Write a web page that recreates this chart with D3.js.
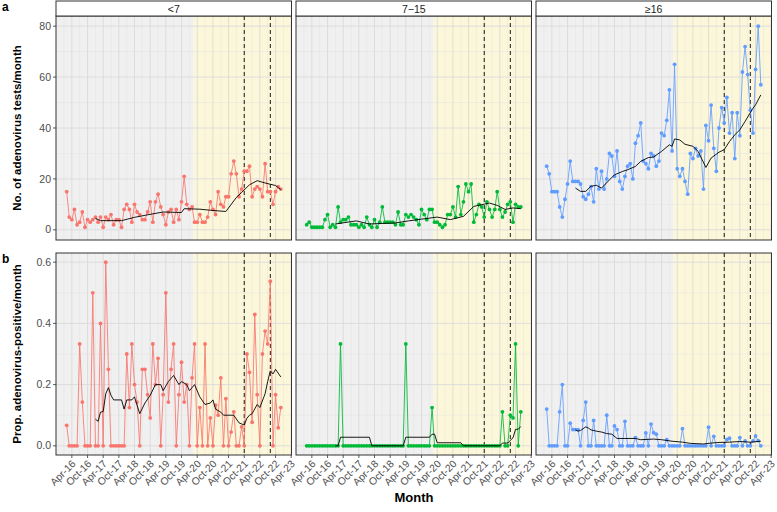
<!DOCTYPE html>
<html><head><meta charset="utf-8">
<script src="https://cdn.jsdelivr.net/npm/d3@7/dist/d3.min.js"></script>
<style>
body{margin:0;background:#fff}
svg{display:block}
text{font-family:"Liberation Sans",Arial,Helvetica,sans-serif}
</style>
</head><body>
<svg id="chart" width="777" height="512"></svg>
<script>
// ---------------- DATA ----------------
const groups = ["<7", "7\u221215", "\u226516"];
const groupColors = ["#F8766D", "#00BA38", "#619CFF"];
const firstMonth = "2016-02";
const lastMonth = "2022-12";

// monthly number of adenovirus tests
const tests_lt7 = [15,5,4,8,2,3,7,1,4,3,4,5,3,5,1,5,4,6,2,4,4,1,8,10,8,3,10,7,6,4,4,7,11,3,11,14,9,6,2,7,8,3,8,4,11,21,10,8,9,3,3,6,3,3,5,11,8,6,15,10,9,13,13,22,27,22,13,16,23,23,25,13,16,17,16,13,26,15,15,10,15,17,16];
const tests_7_15 = [2,3,1,1,1,1,1,4,6,1,2,1,9,3,4,4,5,2,2,2,1,2,1,5,2,1,4,1,3,9,3,3,3,3,2,7,2,2,6,5,6,5,4,2,8,6,4,8,8,3,3,2,1,2,6,6,9,5,17,6,11,18,15,18,3,6,10,9,5,11,8,5,8,15,8,5,7,10,11,3,10,9,9];
const tests_ge16 = [25,22,15,15,15,9,5,12,18,27,19,19,19,18,13,12,14,17,11,24,16,23,16,20,30,29,21,31,19,16,21,25,26,20,34,37,42,27,26,24,30,29,25,27,38,37,43,55,31,65,24,21,24,19,14,30,28,32,29,31,16,41,35,49,32,23,40,48,42,52,38,46,28,46,37,62,72,61,47,38,63,80,57];

// monthly proportion adenovirus-positive
const prop_lt7 = [0.067,0,0,0,0,0.333,0.143,0,0,0,0.5,0,0,0.4,0,0.6,0.25,0,0,0,0,0,0,0.3,0.125,0.333,0.2,0.143,0,0.25,0.25,0.167,0.091,0.333,0.2,0.286,0,0.167,0.5,0.143,0.25,0.333,0,0.167,0.273,0.143,0.2,0,0.222,0.333,0,0.125,0,0.333,0,0.091,0,0.133,0.1,0.222,0,0.154,0,0.045,0.111,0,0,0.062,0,0.3,0.24,0.077,0.429,0.167,0,0.3,0.375,0.333,0.538,0,0.167,0.059,0.125];
const prop_7_15 = [0,0,0,0,0,0,0,0,0,0,0,0,0,0.333,0,0,0,0,0,0,0,0,0,0,0,0,0,0,0,0,0,0,0,0,0,0,0,0,0.333,0,0,0,0,0,0,0,0,0,0.125,0,0,0,0,0,0,0,0,0,0,0,0,0,0,0,0,0,0,0,0,0,0,0,0,0,0,0.111,0,0,0.1,0.091,0.333,0,0.111];
const prop_ge16 = [0.12,0,0,0,0,0.111,0.2,0,0,0.074,0.053,0.053,0.053,0,0.083,0.143,0,0,0.083,0,0,0,0,0.1,0,0,0.065,0.053,0,0,0.08,0,0,0,0.027,0,0,0,0.042,0,0.071,0.043,0.038,0,0,0,0.02,0,0,0,0,0,0.056,0,0,0,0,0,0,0,0,0,0.061,0,0.031,0,0,0,0,0.021,0.025,0,0,0,0.027,0,0.016,0,0,0.016,0.032,0.017,0];

// black trend line: [month index, value]
const trendTests_lt7 = [[11,4.5],[13,3.6],[21,3.6],[26,4.9],[31,5.9],[37,7.0],[44,6.8],[45,8.3],[51,8.1],[56,7.6],[61,7.2],[65,12.7],[67,14.7],[70,17.7],[73,19.3],[76,18.4],[80,17.4],[82,15.8]];
const trendTests_7_15 = [[11,2.3],[19,3.5],[24,2.3],[34,2.7],[39,3.5],[44,4.2],[50,5.0],[55,4.0],[60,5.3],[64,9.2],[68,10.1],[70,10.5],[73,9.6],[76,8.0],[79,8.6],[82,8.3]];
const trendTests_ge16 = [[11,16.4],[13,15.1],[15,15.1],[17,17.1],[19,17.5],[21,16.4],[24,19.6],[26,21.6],[29,22.9],[31,23.6],[34,24.9],[36,26.9],[39,28.4],[41,28.6],[44,30.8],[47,33.4],[48,32.8],[49,35.7],[51,35.3],[53,33.6],[56,32.8],[58,30.8],[61,24.5],[63,28.2],[66,30.5],[68,31.5],[70,34.7],[72,37.3],[74,39.3],[76,42.6],[79,47.8],[80,49.1],[82,53.0]];
const trendProp_lt7 = [[11,0.087],[12,0.08],[13,0.11],[14,0.112],[15,0.17],[16,0.19],[17,0.165],[18,0.15],[21,0.15],[22,0.12],[23,0.15],[25,0.15],[26,0.16],[28,0.105],[30,0.14],[32,0.165],[34,0.2],[36,0.2],[37,0.18],[39,0.21],[41,0.23],[43,0.2],[44,0.21],[46,0.2],[47,0.18],[49,0.2],[51,0.16],[53,0.135],[55,0.14],[56,0.15],[57,0.12],[59,0.11],[60,0.1],[64,0.1],[66,0.075],[68,0.068],[69,0.09],[70,0.1],[71,0.105],[73,0.135],[74,0.125],[76,0.17],[77,0.21],[78,0.245],[79,0.235],[80,0.25],[82,0.225]];
const trendProp_7_15 = [[11,0],[12,0],[13,0.028],[24,0.028],[25,0],[37,0],[38,0.028],[47,0.028],[48,0.038],[49,0.038],[50,0.01],[59,0.01],[60,0],[74,0],[75,0.009],[77,0.009],[78,0.018],[79,0.026],[80,0.054],[81,0.054],[82,0.063]];
const trendProp_ge16 = [[11,0.052],[12,0.048],[13,0.05],[15,0.062],[16,0.058],[17,0.052],[19,0.048],[21,0.045],[23,0.04],[25,0.038],[27,0.024],[34,0.024],[36,0.02],[41,0.022],[44,0.02],[48,0.015],[52,0.012],[55,0.008],[60,0.006],[63,0.009],[66,0.011],[70,0.012],[74,0.014],[78,0.012],[82,0.015]];

// axes
const xTickDates = ["2016-04","2016-10","2017-04","2017-10","2018-04","2018-10","2019-04","2019-10","2020-04","2020-10","2021-04","2021-10","2022-04","2022-10","2023-04"];
const xTickLabels = ["Apr-16","Oct-16","Apr-17","Oct-17","Apr-18","Oct-18","Apr-19","Oct-19","Apr-20","Oct-20","Apr-21","Oct-21","Apr-22","Oct-22","Apr-23"];
const xMinorDates = ["2016-01","2016-07","2017-01","2017-07","2018-01","2018-07","2019-01","2019-07","2020-01","2020-07","2021-01","2021-07","2022-01","2022-07","2023-01"];
const yTicksTests = [0, 20, 40, 60, 80];
const yMinorTests = [10, 30, 50, 70];
const yTicksProp = [0, 0.2, 0.4, 0.6];
const yTickPropLabels = ["0.0", "0.2", "0.4", "0.6"];
const yMinorProp = [0.1, 0.3, 0.5];
const shadeStart = "2020-02-20";
const dashedDates = ["2021-10-01", "2022-08-01"];

// ---------------- LAYOUT ----------------
const svg = d3.select("#chart");
const colX = [56, 296, 536];
const panelW = 235.5;
const rows = [
  {y: 16, h: 224, domain: [-4, 84], ticks: yTicksTests, labels: yTicksTests.map(String), minor: yMinorTests,
   series: [tests_lt7, tests_7_15, tests_ge16], trends: [trendTests_lt7, trendTests_7_15, trendTests_ge16]},
  {y: 253, h: 202, domain: [-0.03, 0.63], ticks: yTicksProp, labels: yTickPropLabels, minor: yMinorProp,
   series: [prop_lt7, prop_7_15, prop_ge16], trends: [trendProp_lt7, trendProp_7_15, trendProp_ge16]}
];

const parseM = d3.timeParse("%Y-%m");
const parseD = d3.timeParse("%Y-%m-%d");
const months = d3.timeMonth.range(parseM(firstMonth), d3.timeMonth.offset(parseM(lastMonth), 1));
const t0 = +months[0], t1 = +months[months.length - 1];
const pad = (t1 - t0) * 0.05;

rows.forEach((row, r) => {
  const y = d3.scaleLinear().domain(row.domain).range([row.y + row.h, row.y]);
  groups.forEach((g, c) => {
    const x = d3.scaleTime().domain([new Date(t0 - pad), new Date(t1 + pad)]).range([colX[c], colX[c] + panelW]);
    const gp = svg.append("g");
    const left = colX[c], right = colX[c] + panelW;
    const xs = x(parseD(shadeStart));
    // shaded periods
    gp.append("rect").attr("x", left).attr("y", row.y).attr("width", xs - left).attr("height", row.h).attr("fill", "#f0f0f0");
    gp.append("rect").attr("x", xs).attr("y", row.y).attr("width", right - xs).attr("height", row.h).attr("fill", "#fdf7d9");
    // grid
    const grid = gp.append("g");
    xMinorDates.map(parseM).filter(d => x(d) > left && x(d) < right).forEach(d => {
      grid.append("line").attr("x1", x(d)).attr("x2", x(d)).attr("y1", row.y).attr("y2", row.y + row.h).attr("stroke", "#e2e2e2").attr("stroke-width", 0.5);
    });
    xTickDates.map(parseM).filter(d => x(d) > left && x(d) < right).forEach(d => {
      grid.append("line").attr("x1", x(d)).attr("x2", x(d)).attr("y1", row.y).attr("y2", row.y + row.h).attr("stroke", "#dadada").attr("stroke-width", 0.9);
    });
    row.minor.forEach(v => {
      grid.append("line").attr("x1", left).attr("x2", right).attr("y1", y(v)).attr("y2", y(v)).attr("stroke", "#e2e2e2").attr("stroke-width", 0.5);
    });
    row.ticks.forEach(v => {
      grid.append("line").attr("x1", left).attr("x2", right).attr("y1", y(v)).attr("y2", y(v)).attr("stroke", "#dadada").attr("stroke-width", 0.9);
    });
    // dashed reference lines
    dashedDates.forEach(s => {
      const xx = x(parseD(s));
      gp.append("line").attr("x1", xx).attr("x2", xx).attr("y1", row.y).attr("y2", row.y + row.h)
        .attr("stroke", "#000").attr("stroke-width", 0.9).attr("stroke-dasharray", "4,3");
    });
    // series
    const vals = row.series[c].map((v, i) => ({d: months[i], v}));
    const line = d3.line().x(d => x(d.d)).y(d => y(d.v));
    gp.append("path").datum(vals).attr("d", line).attr("fill", "none").attr("stroke", groupColors[c])
      .attr("stroke-width", 1).attr("stroke-opacity", 0.85);
    gp.selectAll("circle").data(vals).enter().append("circle")
      .attr("cx", d => x(d.d)).attr("cy", d => y(d.v)).attr("r", 1.9).attr("fill", groupColors[c]);
    // trend
    const tr = row.trends[c].map(([i, v]) => ({d: months[i], v}));
    gp.append("path").datum(tr).attr("d", line).attr("fill", "none").attr("stroke", "#000").attr("stroke-width", 0.9);
    // border
    gp.append("rect").attr("x", left).attr("y", row.y).attr("width", panelW).attr("height", row.h)
      .attr("fill", "none").attr("stroke", "#333").attr("stroke-width", 1);
    // strip (top row only)
    if (r === 0) {
      gp.append("rect").attr("x", left).attr("y", 1).attr("width", panelW).attr("height", 15)
        .attr("fill", "#fff").attr("stroke", "#333").attr("stroke-width", 1);
      gp.append("text").attr("x", left + panelW / 2).attr("y", 12.5).attr("text-anchor", "middle")
        .attr("font-size", 10.5).attr("fill", "#1a1a1a").text(g);
    }
    // y axis (first column)
    if (c === 0) {
      row.ticks.forEach((v, k) => {
        gp.append("line").attr("x1", left - 3).attr("x2", left).attr("y1", y(v)).attr("y2", y(v)).attr("stroke", "#333").attr("stroke-width", 0.8);
        gp.append("text").attr("x", left - 5).attr("y", y(v)).attr("dy", "0.35em").attr("text-anchor", "end")
          .attr("font-size", 10.5).attr("fill", "#4d4d4d").text(row.labels[k]);
      });
    }
    // x axis (bottom row)
    if (r === 1) {
      const yb = row.y + row.h;
      xTickDates.forEach((s, k) => {
        const xx = x(parseM(s));
        gp.append("line").attr("x1", xx).attr("x2", xx).attr("y1", yb).attr("y2", yb + 3).attr("stroke", "#333").attr("stroke-width", 0.8);
        gp.append("text").attr("transform", `translate(${xx - 1},${yb + 4}) rotate(-45)`)
          .attr("text-anchor", "end").attr("dy", "0.75em").attr("font-size", 10.3).attr("fill", "#4d4d4d").text(xTickLabels[k]);
      });
    }
  });
});

// axis titles
svg.append("text").attr("transform", "translate(21,128) rotate(-90)").attr("text-anchor", "middle")
  .attr("font-size", 11.5).attr("font-weight", "bold").attr("fill", "#000").text("No. of adenovirus tests/month");
svg.append("text").attr("transform", "translate(21,354) rotate(-90)").attr("text-anchor", "middle")
  .attr("font-size", 11.5).attr("font-weight", "bold").attr("fill", "#000").text("Prop. adenovirus-positive/month");
svg.append("text").attr("x", 414).attr("y", 502).attr("text-anchor", "middle")
  .attr("font-size", 13).attr("font-weight", "bold").attr("fill", "#000").text("Month");
svg.append("text").attr("x", 2).attr("y", 11).attr("font-size", 12).attr("font-weight", "bold").text("a");
svg.append("text").attr("x", 2).attr("y", 263).attr("font-size", 12).attr("font-weight", "bold").text("b");
</script>
</body></html>
